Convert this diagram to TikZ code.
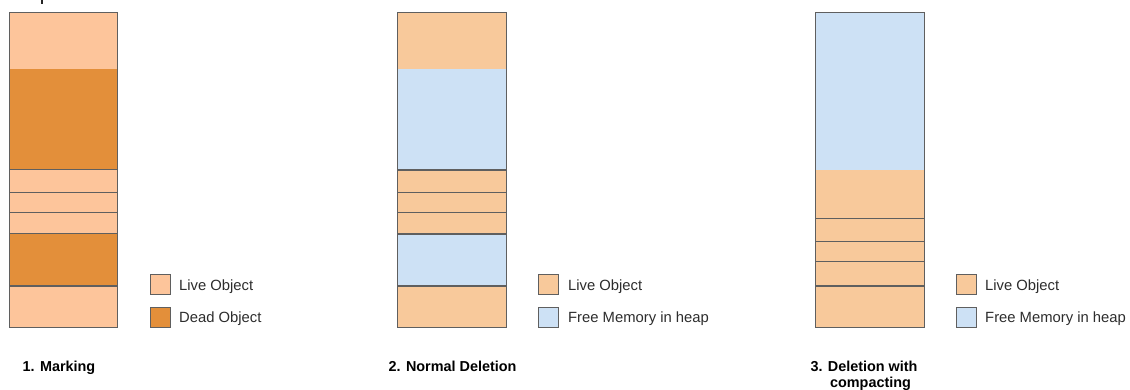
\documentclass[tikz,border=0pt]{standalone}
\usepackage{fontspec}
\setmainfont{Liberation Sans}
\definecolor{liveA}{RGB}{253,197,155}
\definecolor{liveB}{RGB}{248,201,155}
\definecolor{dead}{RGB}{227,143,58}
\definecolor{free}{RGB}{205,225,245}
\definecolor{edge}{RGB}{95,95,95}
\definecolor{txt}{RGB}{45,45,45}
\begin{document}
\begin{tikzpicture}[x=1pt,y=-1pt,
  divider/.style={draw=edge,line width=1.3pt},
  outline/.style={draw=edge,line width=0.8pt},
  legbox/.style={draw=edge,line width=0.8pt,minimum width=20pt,minimum height=20pt,inner sep=0pt},
  legtext/.style={anchor=base west,inner sep=0pt,text=txt,font=\fontsize{14.8}{17}\selectfont},
  caption/.style={inner sep=0pt,font=\bfseries\fontsize{14.4}{16}\selectfont}]
\useasboundingbox[fill=white] (0,0) rectangle (1130,390);
% cropped glyph fragment at the top
\fill[black!85] (41.3,0) rectangle (43.3,4.5);
% ---- column 1: marking
\fill[liveA] (9.5,12.7) rectangle (117.7,69);
\fill[dead]  (9.5,69) rectangle (117.7,169.5);
\fill[liveA] (9.5,169.5) rectangle (117.7,233.5);
\fill[dead]  (9.5,233.5) rectangle (117.7,286);
\fill[liveA] (9.5,286) rectangle (117.7,327);
\foreach \yy in {169.5,192.7,212.5,233.5,286} \draw[divider] (9.5,\yy) -- (117.7,\yy);
\draw[outline] (9.5,12.7) rectangle (117.7,327);
% ---- column 2: normal deletion
\fill[liveB] (397.7,12.7) rectangle (506,69);
\fill[free]  (397.7,69) rectangle (506,170);
\fill[liveB] (397.7,170) rectangle (506,234);
\fill[free]  (397.7,234) rectangle (506,286);
\fill[liveB] (397.7,286) rectangle (506,327);
\foreach \yy in {170,192.7,212.5,234,286} \draw[divider] (397.7,\yy) -- (506,\yy);
\draw[outline] (397.7,12.7) rectangle (506,327);
% ---- column 3: deletion with compacting
\fill[free]  (815,12.7) rectangle (924,170);
\fill[liveB] (815,170) rectangle (924,327);
\foreach \yy in {218.7,241.7,261.7,286} \draw[divider] (815,\yy) -- (924,\yy);
\draw[outline] (815,12.7) rectangle (924,327);
% ---- legends
\node[legbox,fill=liveA] (l1a) at (160,284.5) {};
\node[legbox,fill=dead]  (l1b) at (160,317) {};
\node[legtext] (t1a) at (179,290) {Live Object};
\node[legtext] (t1b) at (179,322) {Dead Object};
\node[legbox,fill=liveB] (l2a) at (548,284.5) {};
\node[legbox,fill=free]  (l2b) at (548,317) {};
\node[legtext] (t2a) at (568,290) {Live Object};
\node[legtext] (t2b) at (568,322) {Free Memory in heap};
\node[legbox,fill=liveB] (l3a) at (966,284.5) {};
\node[legbox,fill=free]  (l3b) at (966,317) {};
\node[legtext] (t3a) at (985,290) {Live Object};
\node[legtext] (t3b) at (985,322) {Free Memory in heap};
% ---- captions
\node[caption,anchor=base west] (c1) at (22.5,371.5) {1. Marking};
\node[caption,anchor=base west] (c2) at (388.5,371.5) {2. Normal Deletion};
\node[caption,anchor=base] (c3a) at (864,371) {3. Deletion with};
\node[caption,anchor=base] (c3b) at (870.5,387) {compacting};
\end{tikzpicture}
\end{document}
